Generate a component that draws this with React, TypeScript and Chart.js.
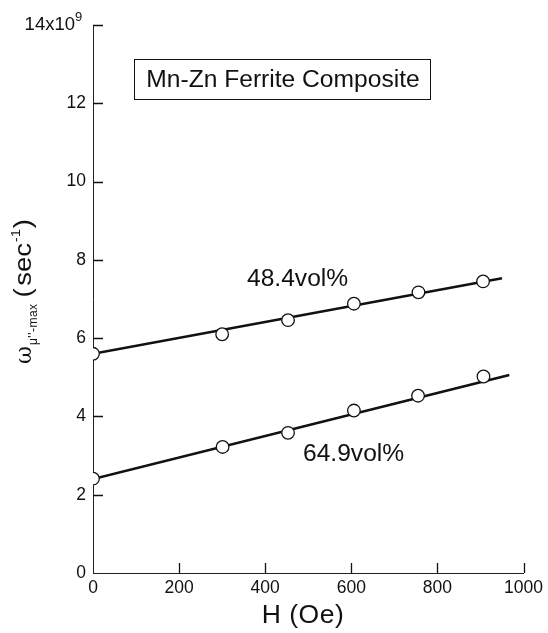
import React, { useEffect, useRef } from "react";
import { Chart, registerables } from "chart.js";

Chart.register(...registerables);

// Measured field H (Oe) and relaxation frequency (units of 1e9 sec^-1)
const fieldH484 = [0, 300, 453, 606, 756, 906];
const omega484 = [5.6, 6.1, 6.46, 6.88, 7.17, 7.45];
const fieldH649 = [0, 301, 453, 606, 755, 907];
const omega649 = [2.41, 3.22, 3.58, 4.15, 4.53, 5.02];

// Linear fits: [H start, H end] and [omega start, omega end]
const fitH484 = [0, 950];
const fitOmega484 = [5.6, 7.53];
const fitH649 = [0, 967];
const fitOmega649 = [2.4, 5.06];

const xTicks = [0, 200, 400, 600, 800, 1000];
const yTicks = [0, 2, 4, 6, 8, 10, 12, 14];

const seriesLabels = ["48.4vol%", "64.9vol%"];
const boxTitle = "Mn-Zn Ferrite Composite";
const xTitle = "H (Oe)";

const FONT = "'Liberation Sans', Arial, Helvetica, sans-serif";

const pts = (xs: number[], ys: number[]) => xs.map((x, i) => ({ x, y: ys[i] }));

const decorations = {
  id: "decorations",
  afterDraw(chart: any) {
    const ctx = chart.ctx as CanvasRenderingContext2D & { letterSpacing?: string };
    const xs = chart.scales.x;
    const ys = chart.scales.y;
    const left = chart.chartArea.left;
    const bottom = chart.chartArea.bottom;
    ctx.save();
    ctx.strokeStyle = "#111";
    ctx.lineWidth = 1.3;
    // inward tick marks
    ctx.beginPath();
    xTicks.slice(1).forEach((v) => {
      const px = Math.round(xs.getPixelForValue(v)) + 0.5;
      ctx.moveTo(px, bottom);
      ctx.lineTo(px, bottom - 10);
    });
    yTicks.slice(1).forEach((v) => {
      const py = Math.round(ys.getPixelForValue(v)) + 0.5;
      ctx.moveTo(left, py);
      ctx.lineTo(left + 10, py);
    });
    ctx.stroke();

    ctx.fillStyle = "#111";
    // top tick label with exponent
    const topY = ys.getPixelForValue(14);
    ctx.font = `18.5px ${FONT}`;
    ctx.textBaseline = "middle";
    ctx.textAlign = "right";
    ctx.fillText("14x10", 75, topY);
    ctx.textAlign = "left";
    ctx.font = `13px ${FONT}`;
    ctx.fillText("9", 75, topY - 8);

    // boxed title
    ctx.lineWidth = 1;
    ctx.strokeRect(134.5, 59.5, 296, 40);
    ctx.font = `24.6px ${FONT}`;
    ctx.textAlign = "center";
    ctx.fillText(boxTitle, 283, 80);

    // series annotations
    ctx.textAlign = "left";
    ctx.fillText(seriesLabels[0], 247, 279);
    ctx.fillText(seriesLabels[1], 303, 454);

    // x-axis title
    ctx.font = `26.5px ${FONT}`;
    ctx.letterSpacing = "0.5px";
    ctx.textAlign = "center";
    ctx.fillText(xTitle, 303, 616);
    ctx.letterSpacing = "0px";

    // rotated y-axis title: ω_{μ''-max} (sec^-1)
    ctx.translate(31, 364);
    ctx.rotate(-Math.PI / 2);
    ctx.textAlign = "left";
    ctx.textBaseline = "alphabetic";
    let cx = 0;
    ctx.font = `22px 'DejaVu Serif', serif`;
    ctx.fillText("ω", cx, 0);
    cx += ctx.measureText("ω").width + 1;
    ctx.font = `12px ${FONT}`;
    ctx.letterSpacing = "0.5px";
    ctx.fillText("μ''-max", cx, 6);
    cx += ctx.measureText("μ''-max").width + 6;
    ctx.letterSpacing = "0px";
    // wide-set unit text
    ctx.translate(cx, 0);
    ctx.scale(1.2, 1);
    let ux = 0;
    ctx.font = `23px ${FONT}`;
    ctx.fillText("(", ux, 0);
    ux += ctx.measureText("(").width + 2;
    ctx.fillText("sec", ux, 0);
    ux += ctx.measureText("sec").width + 0.5;
    ctx.font = `12.5px ${FONT}`;
    ctx.fillText("-1", ux, -11);
    ux += ctx.measureText("-1").width + 0.5;
    ctx.font = `23px ${FONT}`;
    ctx.fillText(")", ux, 0);
    ctx.restore();
  },
};

export default function App() {
  const canvasRef = useRef<HTMLCanvasElement | null>(null);

  useEffect(() => {
    if (!canvasRef.current) return;
    const pointStyle = {
      type: "scatter" as const,
      showLine: false,
      pointRadius: 6.3,
      pointHoverRadius: 6.3,
      pointBackgroundColor: "#fff",
      pointBorderColor: "#111",
      pointBorderWidth: 1.3,
      order: 0,
    };
    const lineStyle = {
      type: "line" as const,
      borderColor: "#111",
      borderWidth: 2.6,
      pointRadius: 0,
      fill: false,
      order: 1,
    };
    const chart = new Chart(canvasRef.current, {
      data: {
        datasets: [
          { ...pointStyle, label: seriesLabels[0], data: pts(fieldH484, omega484) },
          { ...pointStyle, label: seriesLabels[1], data: pts(fieldH649, omega649) },
          { ...lineStyle, label: "fit 48.4", data: pts(fitH484, fitOmega484) },
          { ...lineStyle, label: "fit 64.9", data: pts(fitH649, fitOmega649) },
        ],
      } as any,
      options: {
        animation: false,
        responsive: false,
        devicePixelRatio: 1,
        layout: { padding: { top: 25, right: 22, left: 0, bottom: 0 } },
        plugins: {
          legend: { display: false },
          tooltip: { enabled: false },
          title: { display: false },
        },
        scales: {
          x: {
            type: "linear",
            min: 0,
            max: 1000,
            afterBuildTicks: (s: any) => {
              s.ticks = xTicks.map((v) => ({ value: v }));
            },
            afterFit: (s: any) => {
              s.height = 60;
            },
            grid: { display: false, drawTicks: false },
            border: { display: true, color: "#222", width: 1 },
            ticks: {
              color: "#111",
              font: { family: FONT, size: 17.5 },
              padding: 5,
              maxRotation: 0,
              autoSkip: false,
              callback: (v: any) => String(v),
            },
          },
          y: {
            type: "linear",
            min: 0,
            max: 14,
            afterBuildTicks: (s: any) => {
              s.ticks = yTicks.map((v) => ({ value: v }));
            },
            afterFit: (s: any) => {
              s.width = 93;
            },
            grid: { display: false, drawTicks: false },
            border: { display: true, color: "#222", width: 1 },
            ticks: {
              color: "#111",
              font: { family: FONT, size: 17.5 },
              padding: 7,
              autoSkip: false,
              callback: (v: any) => (v === 14 ? "" : String(v)),
            },
          },
        },
      } as any,
      plugins: [decorations],
    });
    return () => chart.destroy();
  }, []);

  return (
    <div style={{ position: "fixed", left: 0, top: 0, width: 548, height: 633, background: "#fff" }}>
      <canvas ref={canvasRef} width={548} height={633} style={{ width: 548, height: 633 }} />
    </div>
  );
}
